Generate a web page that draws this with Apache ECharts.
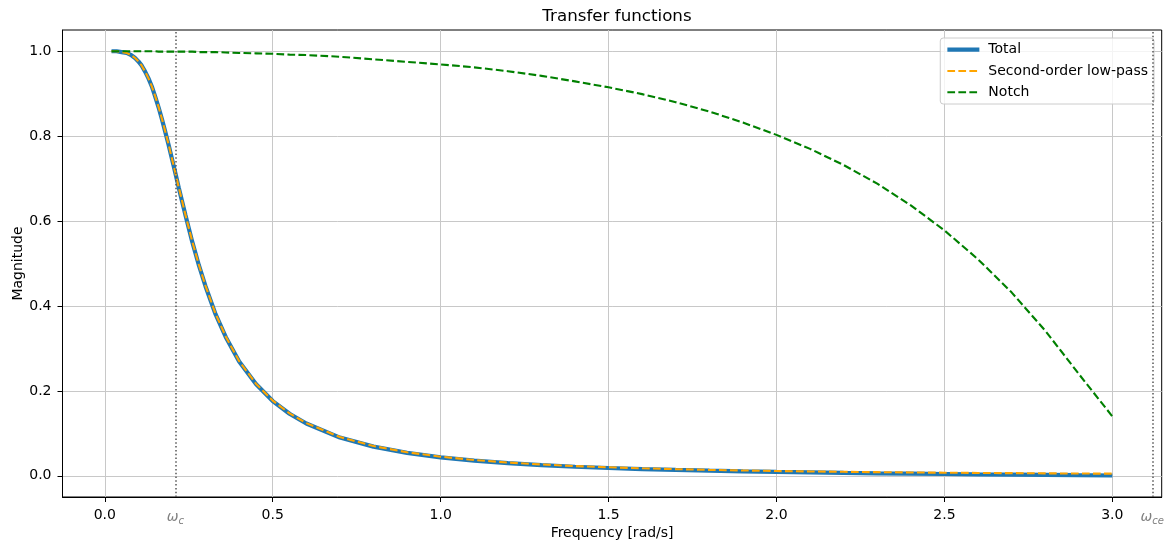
<!DOCTYPE html>
<html>
<head>
<meta charset="utf-8">
<title>Transfer functions</title>
<script src="https://cdn.jsdelivr.net/npm/echarts@6/dist/echarts.min.js"></script>
<style>
  html, body { margin: 0; padding: 0; background: #ffffff; }
  #chart { width: 1168px; height: 547px; }
</style>
</head>
<body>
<div id="chart"></div>
<script>
// Frequency samples [rad/s]
const freq = [0.02, 0.035, 0.05, 0.065, 0.08, 0.09, 0.10, 0.11, 0.12, 0.13, 0.14, 0.15, 0.16, 0.17, 0.18, 0.19,
  0.20, 0.21, 0.22, 0.24, 0.26, 0.28, 0.30, 0.33, 0.36, 0.40, 0.45, 0.50, 0.55, 0.60, 0.70, 0.80, 0.90,
  1.00, 1.10, 1.20, 1.30, 1.40, 1.50, 1.60, 1.70, 1.80, 1.90, 2.00, 2.10, 2.20, 2.30, 2.40, 2.50, 2.60,
  2.70, 2.80, 2.90, 3.00];

// Magnitude of the combined filter
const total = [1.000, 1.000, 0.998, 0.996, 0.990, 0.984, 0.976, 0.966, 0.952, 0.936, 0.917, 0.893, 0.868, 0.840, 0.810, 0.779,
  0.746, 0.713, 0.679, 0.614, 0.552, 0.496, 0.446, 0.380, 0.327, 0.269, 0.216, 0.176, 0.146, 0.123, 0.0900, 0.0687, 0.0540,
  0.0435, 0.0357, 0.0297, 0.0251, 0.0213, 0.0183, 0.0158, 0.0137, 0.0119, 0.0103, 0.0090, 0.0079, 0.0068, 0.0058, 0.0050, 0.0042, 0.0034,
  0.0027, 0.0020, 0.0013, 0.0007];

// Magnitude of the second-order low-pass stage
const lowPass = [1.000, 1.000, 0.998, 0.996, 0.990, 0.984, 0.976, 0.966, 0.952, 0.936, 0.917, 0.894, 0.869, 0.841, 0.811, 0.780,
  0.747, 0.714, 0.680, 0.615, 0.553, 0.497, 0.447, 0.381, 0.328, 0.270, 0.217, 0.177, 0.147, 0.124, 0.0913, 0.0700, 0.0554,
  0.0449, 0.0371, 0.0312, 0.0266, 0.0229, 0.0200, 0.0176, 0.0156, 0.0139, 0.0125, 0.0112, 0.0102, 0.0093, 0.0085, 0.0078, 0.0072, 0.0067,
  0.0062, 0.0057, 0.0053, 0.0050];

// Magnitude of the notch stage
const notch = [1.000, 1.000, 1.000, 1.000, 1.000, 1.000, 1.000, 1.000, 1.000, 1.000, 1.000, 1.000, 0.999, 0.999, 0.999, 0.999,
  0.999, 0.999, 0.999, 0.999, 0.999, 0.998, 0.998, 0.998, 0.997, 0.996, 0.995, 0.994, 0.992, 0.991, 0.987, 0.981, 0.975,
  0.969, 0.962, 0.953, 0.942, 0.929, 0.915, 0.899, 0.880, 0.858, 0.832, 0.803, 0.770, 0.732, 0.688, 0.637, 0.578, 0.510,
  0.432, 0.342, 0.240, 0.140];

// Axis ticks and the two marked frequencies
const xTicks = [0, 0.5, 1.0, 1.5, 2.0, 2.5, 3.0];
const yTicks = [0, 0.2, 0.4, 0.6, 0.8, 1.0];
const omegaC = 0.210;
const omegaCe = 3.119;

const pairs = (ys) => freq.map((x, i) => [x, ys[i]]);

const FONT = 'DejaVu Sans';
const GRID_COLOR = '#c8c8c8';
const MARK_GREY = '#808080';

const chart = echarts.init(document.getElementById('chart'), null, { renderer: 'canvas' });

chart.setOption({
  animation: false,
  backgroundColor: '#ffffff',
  textStyle: { fontFamily: FONT },
  title: {
    text: 'Transfer functions',
    left: 612,
    top: 3,
    textAlign: 'center',
    textStyle: { fontFamily: FONT, fontSize: 16.7, fontWeight: 'normal', color: '#000' }
  },
  grid: {
    left: 62.5, right: 6.3, top: 30, bottom: 50,
    outerBoundsMode: 'none',
    containLabel: false,
    show: true, borderColor: '#000', borderWidth: 1, backgroundColor: 'transparent'
  },
  legend: {
    orient: 'vertical',
    right: 14,
    top: 38,
    itemWidth: 32,
    itemHeight: 14,
    itemGap: 7.3,
    padding: [4.7, 6, 4.7, 5],
    backgroundColor: 'rgba(255,255,255,0.8)',
    borderColor: '#cccccc',
    borderWidth: 1,
    borderRadius: 3,
    itemStyle: { opacity: 0 },
    lineStyle: { width: 'inherit' },
    textStyle: { fontFamily: FONT, fontSize: 14, color: '#000', padding: [0, 0, 0, 4] },
    data: ['Total', 'Second-order low-pass', 'Notch']
  },
  xAxis: {
    type: 'value',
    min: -0.126,
    max: 3.147,
    name: 'Frequency [rad/s]',
    nameLocation: 'middle',
    nameGap: 29,
    nameMoveOverlap: false,
    nameTextStyle: { fontFamily: FONT, fontSize: 14, color: '#000', verticalAlign: 'top' },
    axisLine: { show: true, onZero: false, lineStyle: { color: '#000', width: 1 } },
    axisTick: { show: true, inside: false, length: 5, customValues: xTicks, lineStyle: { color: '#000', width: 1 } },
    axisLabel: {
      customValues: [xTicks[0], omegaC].concat(xTicks.slice(1), [omegaCe]),
      margin: 11,
      fontFamily: FONT, fontSize: 14, color: '#000',
      formatter: (v) => {
        if (Math.abs(v - omegaC) < 1e-6) return '{w|ω}{s|c}';
        if (Math.abs(v - omegaCe) < 1e-6) return '{w|ω}{s|ce}';
        return v.toFixed(1);
      },
      rich: {
        w: { fontFamily: FONT, fontStyle: 'italic', fontSize: 14, color: MARK_GREY },
        s: { fontFamily: FONT, fontStyle: 'italic', fontSize: 10, color: MARK_GREY, padding: [8, 0, 0, 0] }
      }
    },
    splitLine: { show: true, lineStyle: { color: GRID_COLOR, width: 1 } }
  },
  yAxis: {
    type: 'value',
    min: -0.05,
    max: 1.05,
    name: 'Magnitude',
    nameLocation: 'middle',
    nameGap: 37,
    nameMoveOverlap: false,
    nameTextStyle: { fontFamily: FONT, fontSize: 14, color: '#000' },
    axisLine: { show: true, onZero: false, lineStyle: { color: '#000', width: 1 } },
    axisTick: { show: true, inside: false, length: 5, customValues: yTicks, lineStyle: { color: '#000', width: 1 } },
    axisLabel: {
      customValues: yTicks,
      margin: 11,
      fontFamily: FONT, fontSize: 14, color: '#000',
      formatter: (v) => v.toFixed(1)
    },
    splitLine: { show: true, lineStyle: { color: GRID_COLOR, width: 1 } }
  },
  series: [
    {
      name: 'Total',
      type: 'line',
      data: pairs(total),
      symbol: 'none',
      lineStyle: { color: '#1f77b4', width: 4.2 },
      itemStyle: { color: '#1f77b4' },
      z: 2
    },
    {
      name: 'Second-order low-pass',
      type: 'line',
      data: pairs(lowPass),
      symbol: 'none',
      lineStyle: { color: '#ffa500', width: 2.1, type: [7.7, 3.3] },
      itemStyle: { color: '#ffa500' },
      z: 3
    },
    {
      name: 'Notch',
      type: 'line',
      data: pairs(notch),
      symbol: 'none',
      lineStyle: { color: '#008000', width: 2.1, type: [7.7, 3.3] },
      itemStyle: { color: '#008000' },
      z: 4
    },
    {
      // dotted markers at the two characteristic frequencies
      name: 'markers',
      type: 'line',
      data: [],
      symbol: 'none',
      z: 5,
      markLine: {
        silent: true,
        symbol: ['none', 'none'],
        label: { show: false },
        lineStyle: { color: '#555555', width: 1.5, type: [1.5, 2.3] },
        data: [{ xAxis: omegaC }, { xAxis: omegaCe }]
      }
    }
  ]
});
</script>
</body>
</html>
